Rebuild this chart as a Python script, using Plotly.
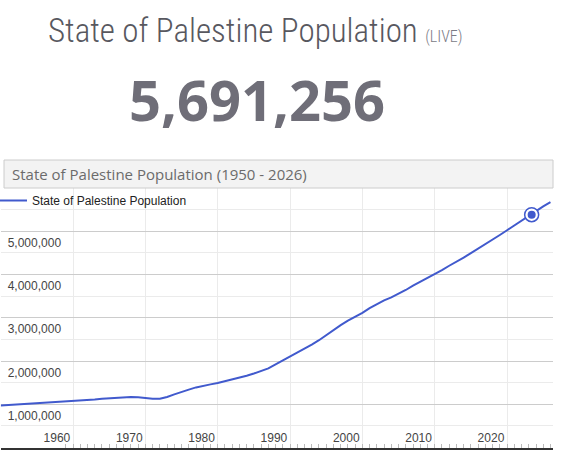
import plotly.graph_objects as go

W, H = 569, 452

years = list(range(1950, 2027))
population = [
    0.97, 0.98, 0.99, 1.00, 1.01, 1.02, 1.03, 1.04, 1.05, 1.06,   # 1950-1959
    1.07, 1.08, 1.10, 1.11, 1.13, 1.14, 1.15, 1.16, 1.17, 1.16,   # 1960-1969
    1.14, 1.13, 1.13, 1.17, 1.23, 1.29, 1.34, 1.39, 1.43, 1.46,   # 1970-1979
    1.49, 1.53, 1.57, 1.61, 1.66, 1.71, 1.77, 1.83, 1.92, 2.01,   # 1980-1989
    2.10, 2.19, 2.28, 2.38, 2.48, 2.60, 2.72, 2.83, 2.93, 3.02,   # 1990-1999
    3.11, 3.22, 3.32, 3.40, 3.47, 3.55, 3.64, 3.74, 3.83, 3.92,   # 2000-2009
    4.00, 4.10, 4.20, 4.29, 4.39, 4.49, 4.59, 4.70, 4.81, 4.91,   # 2010-2019
    5.02, 5.13, 5.25, 5.37, 5.47, 5.57, 5.67,                     # 2020-2026
]
population = [round(v * 1_000_000) for v in population]

current_year = [2023.4]
current_value = [5_380_000]

live_count = "5,691,256"
series_name = "State of Palestine Population"
box_title = "State of Palestine Population (1950 - 2026)"

x_tick_vals = [1960, 1970, 1980, 1990, 2000, 2010, 2020]
y_tick_vals = [0, 1_000_000, 2_000_000, 3_000_000, 4_000_000, 5_000_000, 6_000_000]
y_tick_text = ["", "1,000,000", "2,000,000", "3,000,000", "4,000,000", "5,000,000", ""]
y_minor_vals = [500_000, 1_500_000, 2_500_000, 3_500_000, 4_500_000, 5_500_000]

BLUE = "#415acd"


def px(x):
    return x / W


def py(y):
    return 1 - y / H


fig = go.Figure()
fig.add_trace(go.Scatter(
    x=years, y=population, mode="lines", name=series_name,
    line=dict(color=BLUE, width=2), showlegend=True,
))
fig.add_trace(go.Scatter(
    x=current_year, y=current_value, mode="markers", showlegend=False,
    marker=dict(size=14, color="white", line=dict(color=BLUE, width=1.5)),
))
fig.add_trace(go.Scatter(
    x=current_year, y=current_value, mode="markers", showlegend=False,
    marker=dict(size=8, color=BLUE, line=dict(width=0)),
))

fig.update_layout(
    width=W, height=H,
    margin=dict(l=0, r=0, t=0, b=0, autoexpand=False),
    paper_bgcolor="white", plot_bgcolor="white",
    font=dict(family="Arial, Liberation Sans, sans-serif", size=12, color="#444"),
    xaxis=dict(
        domain=[px(0.7), px(553)],
        range=[1950, 2026.35],
        tickmode="array", tickvals=x_tick_vals,
        ticklabelposition="inside left",
        ticklabelshift=-2,
        showgrid=True, gridcolor="#ebebeb", gridwidth=1,
        zeroline=False,
        showline=True, linecolor="#333", linewidth=1.5,
        ticks="",
        minor=dict(dtick=1, tick0=1950, ticks="inside", ticklen=4,
                   tickcolor="#bbb", tickwidth=1, showgrid=False),
        tickfont=dict(size=12, color="#444"),
        automargin=False,
        fixedrange=True,
    ),
    yaxis=dict(
        domain=[py(447.6), py(187.8)],
        range=[0, 6_000_000],
        tickmode="array", tickvals=y_tick_vals, ticktext=y_tick_text,
        ticklabelposition="inside bottom",
        ticklabelshift=3,
        ticklabelstandoff=4,
        showgrid=True, gridcolor="#cccccc", gridwidth=1,
        zeroline=False, showline=False, ticks="",
        minor=dict(tickmode="array", tickvals=y_minor_vals, showgrid=True,
                   gridcolor="#ebebeb", gridwidth=1, ticks=""),
        tickfont=dict(size=12, color="#444"),
        automargin=False,
        fixedrange=True,
    ),
    legend=dict(
        x=px(-8), y=py(186), xanchor="left", yanchor="top",
        bgcolor="rgba(0,0,0,0)", borderwidth=0,
        font=dict(family="Arial, Liberation Sans, sans-serif", size=12, color="#222"),
        itemwidth=30,
    ),
    showlegend=True,
)

# title box above the chart
fig.add_shape(type="rect", xref="paper", yref="paper",
              x0=px(4), x1=px(553), y0=py(188), y1=py(160),
              fillcolor="#f3f3f3", line=dict(color="#cccccc", width=1), layer="above")

annotations = [
    dict(text=box_title, x=px(10), y=py(174), xanchor="left", yanchor="middle",
         font=dict(family="Open Sans, sans-serif", size=15, color="#6b6b6b")),
    dict(text=("State of Palestine Population "
               "<span style='font-size:16px;color:#7a7a85'>(LIVE)</span>"),
         x=px(255.5), y=py(30.5), xanchor="center", yanchor="middle",
         font=dict(family="Roboto Condensed, Liberation Sans Narrow, Roboto", size=33,
                   color="#58585f", weight=300)),
    dict(text=live_count, x=px(256.5), y=py(99), xanchor="center", yanchor="middle",
         font=dict(family="Open Sans, sans-serif", size=56, color="#6f6e78", weight=700)),
]
for a in annotations:
    a.update(xref="paper", yref="paper", showarrow=False)
fig.update_layout(annotations=annotations)

fig.write_html("out.html")
